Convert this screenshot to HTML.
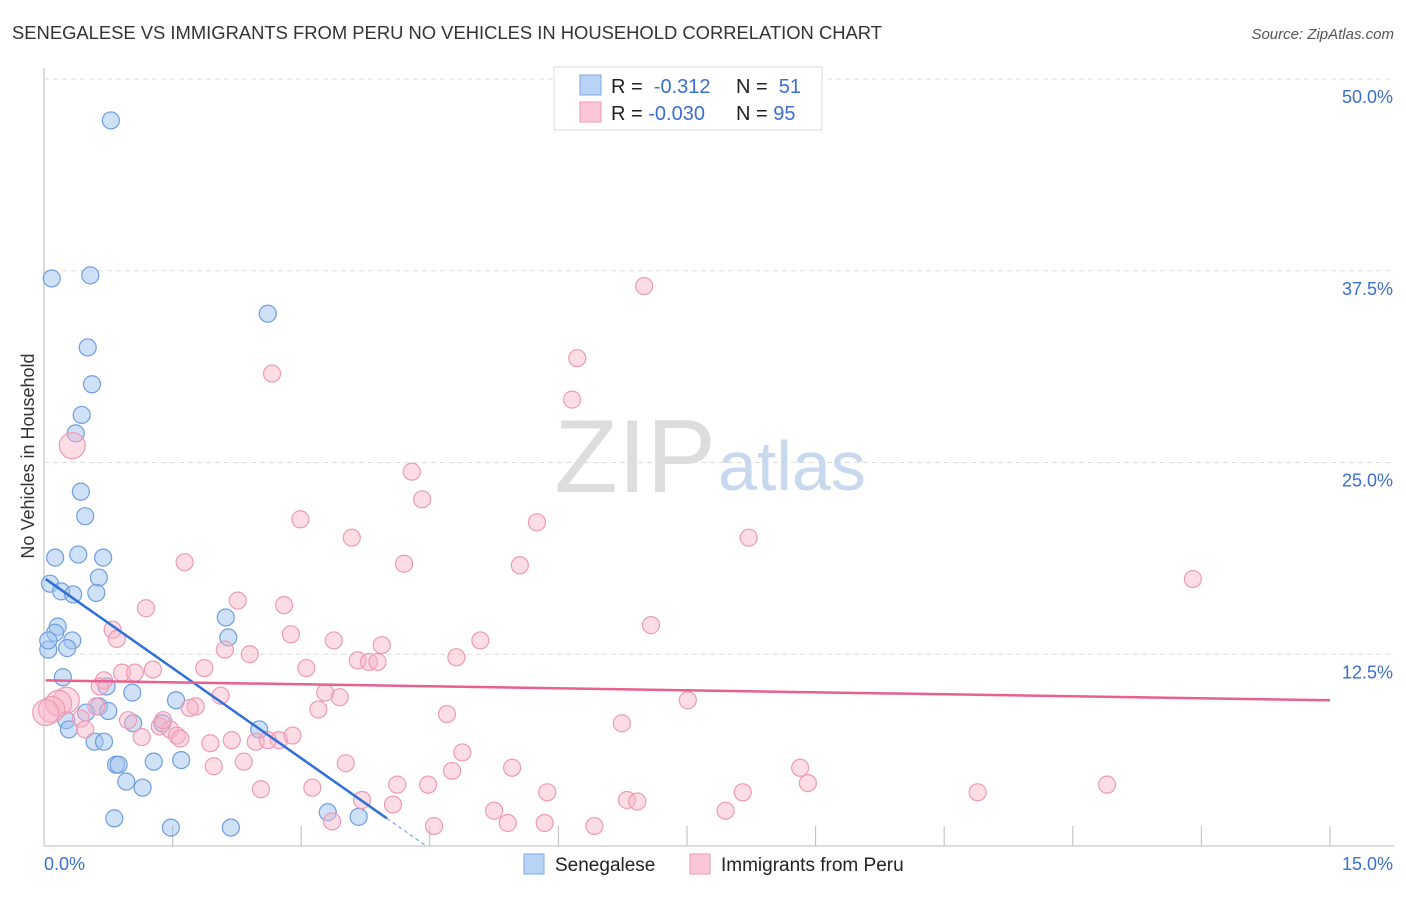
<!DOCTYPE html>
<html><head><meta charset="utf-8"><style>
body{margin:0;background:#fff;font-family:"Liberation Sans",sans-serif;}
svg text{font-family:"Liberation Sans",sans-serif;}
</style></head><body>
<svg id="chart" width="1406" height="892">
<text x="12" y="39" font-size="18.4" fill="#333">SENEGALESE VS IMMIGRANTS FROM PERU NO VEHICLES IN HOUSEHOLD CORRELATION CHART</text>
<text x="1394" y="39" font-size="15" fill="#555" font-style="italic" text-anchor="end">Source: ZipAtlas.com</text>
<text transform="translate(34,456) rotate(-90)" font-size="18" fill="#333" text-anchor="middle">No Vehicles in Household</text>
<g id="grid"></g>
<text x="716" y="492" font-size="104" fill="#ddd" text-anchor="end" font-family="Liberation Serif">ZIP</text>
<text x="718" y="490" font-size="70" fill="#c8d8ef">atlas</text>
<g id="marks"></g>
<g>
<rect x="554" y="67" width="268" height="63" fill="#fff" stroke="#ddd"/>
<rect x="580" y="75" width="21" height="20" fill="#b8d3f5" stroke="#7fa9e3"/>
<rect x="580" y="102" width="21" height="20" fill="#fbc6d5" stroke="#ef9ab5"/>
<text x="611" y="93" font-size="20" fill="#222">R = <tspan fill="#3a6fd0">&#160;-0.312</tspan></text>
<text x="736" y="93" font-size="20" fill="#222">N = <tspan fill="#3a6fd0">&#160;51</tspan></text>
<text x="611" y="120" font-size="20" fill="#222">R = <tspan fill="#3a6fd0">-0.030</tspan></text>
<text x="736" y="120" font-size="20" fill="#222">N = <tspan fill="#3a6fd0">95</tspan></text>
</g>
<g>
<rect x="524" y="854" width="20" height="20" fill="#b8d3f5" stroke="#7fa9e3"/>
<text x="555" y="871" font-size="19" fill="#222">Senegalese</text>
<rect x="690" y="854" width="20" height="20" fill="#fbc6d5" stroke="#ef9ab5"/>
<text x="721" y="871" font-size="19" fill="#222">Immigrants from Peru</text>
</g>
</svg>
<script>
const xTicks=[0,1.5,3,4.5,6,7.5,9,10.5,12,13.5,15];
const yTicks=[12.5,25,37.5,50];
const yTickLabels=["12.5%","25.0%","37.5%","50.0%"];
const senX=[0.78,0.09,0.54,2.61,0.51,0.56,0.44,0.37,0.43,0.48,0.13,0.40,0.69,0.64,0.07,0.20,0.34,0.61,2.12,0.16,0.13,0.33,2.15,0.27,0.05,0.22,0.73,1.03,1.54,0.64,0.75,0.49,0.26,0.29,1.04,1.38,2.51,0.59,0.70,1.28,1.60,0.84,0.87,0.96,1.15,3.31,3.67,0.82,1.48,2.18,0.05];
const senY=[47.3,37.0,37.2,34.7,32.5,30.1,28.1,26.9,23.1,21.5,18.8,19.0,18.8,17.5,17.1,16.6,16.4,16.5,14.9,14.3,13.9,13.4,13.6,12.9,12.8,11.0,10.4,10.0,9.5,9.1,8.8,8.7,8.2,7.6,8.0,8.0,7.6,6.8,6.8,5.5,5.6,5.3,5.3,4.2,3.8,2.2,1.9,1.8,1.2,1.2,13.4];
const peruX=[7.0,6.22,2.66,6.16,0.33,4.29,4.41,2.99,5.75,3.59,8.22,1.64,4.20,5.55,13.40,2.26,1.19,2.80,7.08,0.80,0.85,2.88,3.38,5.09,3.94,2.11,2.40,4.81,3.66,3.79,3.89,3.06,1.87,1.27,0.91,1.06,0.70,0.65,3.28,3.45,2.06,7.51,0.26,0.17,0.09,0.61,1.77,1.70,3.20,4.70,0.43,0.98,6.74,1.35,1.47,0.48,1.14,1.55,1.59,1.94,2.19,2.47,2.74,2.61,2.90,4.88,2.33,1.98,3.52,5.46,4.76,8.82,8.91,4.12,4.48,2.53,3.13,5.87,8.15,10.89,12.40,3.71,4.07,6.80,6.92,5.25,7.95,3.36,4.55,5.41,5.84,6.42,1.39,0.02];
const peruY=[36.5,31.8,30.8,29.1,26.1,24.4,22.6,21.3,21.1,20.1,20.1,18.5,18.4,18.3,17.4,16.0,15.5,15.7,14.4,14.1,13.5,13.8,13.4,13.4,13.1,12.8,12.5,12.3,12.1,12.0,12.0,11.6,11.6,11.5,11.3,11.3,10.8,10.4,10.0,9.7,9.8,9.5,9.5,9.3,8.9,9.1,9.1,9.0,8.9,8.6,8.3,8.2,8.0,7.8,7.6,7.6,7.1,7.2,7.0,6.7,6.9,6.8,6.9,6.9,7.2,6.1,5.5,5.2,5.4,5.1,4.9,5.1,4.1,4.0,4.0,3.7,3.8,3.5,3.5,3.5,4.0,3.0,2.7,3.0,2.9,2.3,2.3,1.6,1.3,1.5,1.5,1.3,8.2,8.7];
const peruBig=[4,42,43,44,93];
const senTrend=[17.4,1.8];const senTrendX=[0.02,4.0];
const peruTrend=[10.8,9.5];const peruTrendX=[0.02,15];
const NS="http://www.w3.org/2000/svg";
const X=v=>44+v/15*1286, Y=v=>846-v*15.34;
function mk(t,a,p){const e=document.createElementNS(NS,t);for(const k in a)e.setAttribute(k,a[k]);p.appendChild(e);return e;}
const grid=document.getElementById('grid'), marks=document.getElementById('marks');
let ax=mk('line',{x1:44,y1:68,x2:44,y2:846,stroke:'#bbb'},grid);

let bx=mk('line',{x1:44,y1:846,x2:1394,y2:846,stroke:'#bbb'},grid);

yTicks.forEach((t,i)=>{
 const g=mk('line',{x1:44,x2:1394,y1:Y(t),y2:Y(t),stroke:'#ddd','stroke-dasharray':'5,4'},grid);
 
 const l=mk('text',{x:1393,y:Y(t)+24,'font-size':18,fill:'#3a6fd0','text-anchor':'end'},grid);l.textContent=yTickLabels[i];
 
});
xTicks.forEach(t=>{if(t===0)return;const k=mk('line',{x1:X(t),x2:X(t),y1:826,y2:846,stroke:'#bbb'},grid);
 });
let l0=mk('text',{x:44,y:870,'font-size':18,fill:'#3a6fd0'},grid);l0.textContent='0.0%';

let l1=mk('text',{x:1393,y:870,'font-size':18,fill:'#3a6fd0','text-anchor':'end'},grid);l1.textContent='15.0%';

senX.forEach((v,i)=>{const c=mk('circle',{cx:X(v),cy:Y(senY[i]),r:8.5,fill:'rgba(160,196,240,0.5)',stroke:'#6f9ee0','stroke-width':1.2},marks);
 });
peruX.forEach((v,i)=>{const c=mk('circle',{cx:X(v),cy:Y(peruY[i]),r:peruBig.includes(i)?13:8.5,fill:'rgba(248,180,200,0.45)',stroke:'#ee9ab4','stroke-width':1.2},marks);
 });
let st=mk('line',{x1:X(senTrendX[0]),y1:Y(senTrend[0]),x2:X(senTrendX[1]),y2:Y(senTrend[1]),stroke:'#2f6fd6','stroke-width':2.5},marks);

const slope=(senTrend[1]-senTrend[0])/(senTrendX[1]-senTrendX[0]);
const xe=senTrendX[1]+(0-senTrend[1])/slope;
let sd=mk('line',{x1:X(senTrendX[1]),y1:Y(senTrend[1]),x2:X(xe),y2:Y(0),stroke:'#7fa9e3','stroke-width':1.2,'stroke-dasharray':'4,3'},marks);

let pt=mk('line',{x1:X(peruTrendX[0]),y1:Y(peruTrend[0]),x2:X(peruTrendX[1]),y2:Y(peruTrend[1]),stroke:'#e8608c','stroke-width':2.5},marks);

</script>
</body></html>
